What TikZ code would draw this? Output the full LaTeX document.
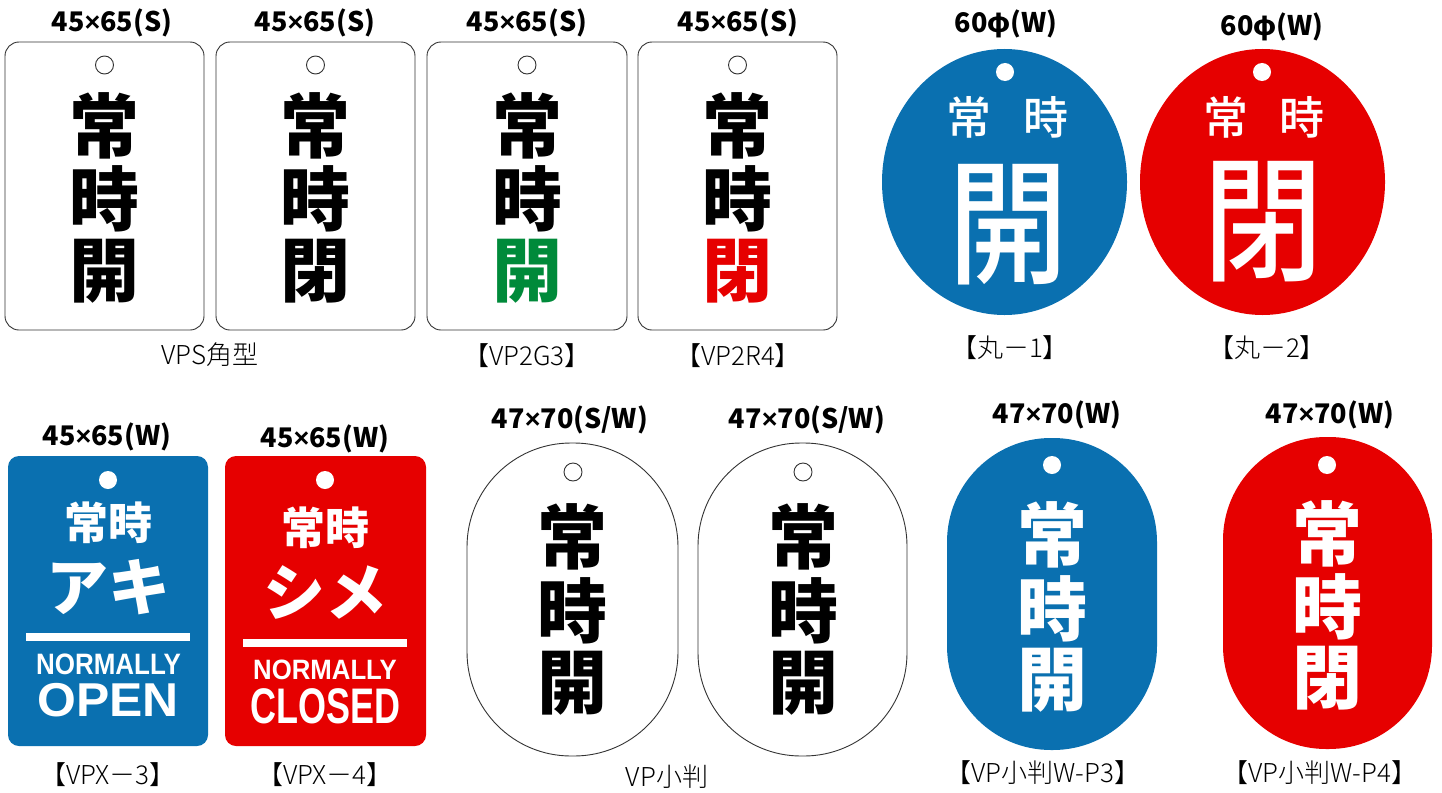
\documentclass[tikz,border=0pt]{standalone}
\usepackage{fontspec}
\newfontfamily\jp{Noto Sans CJK JP}
\newfontfamily\jpblack{Noto Sans CJK JP Black}
\newfontfamily\jpmed{Noto Sans CJK JP Medium}
\newfontfamily\jplight{Noto Sans CJK JP Light}
\newfontfamily\lsans{Liberation Sans}
\newcommand{\tms}{{\lsans\bfseries ×}}
\definecolor{tagblue}{RGB}{10,112,176}
\definecolor{tagred}{RGB}{230,0,0}
\definecolor{taggreen}{RGB}{0,138,58}
\tikzset{
  wtag/.style={draw=black!80,line width=0.9pt,fill=white},
  btag/.style={fill=tagblue},
  rtag/.style={fill=tagred},
  ohole/.style={draw=black!80,line width=0.9pt,fill=white},
  whole/.style={fill=white},
  sizelbl/.style={anchor=base,inner sep=0pt,font=\jp\bfseries\fontsize{27}{27}\selectfont},
  caplbl/.style={inner sep=0pt,font=\jplight\fontsize{26}{26}\selectfont},
  kbig/.style={inner sep=0pt,font=\jpblack\fontsize{70}{70}\selectfont},
  rkan/.style={inner sep=0pt,text=white,font=\jpmed\fontsize{45}{45}\selectfont},
  rbig/.style={inner sep=0pt,text=white,font=\jpmed\fontsize{136}{136}\selectfont},
  engl/.style={anchor=base,inner sep=0pt,text=white,font=\lsans\bfseries},
}
\begin{document}
\begin{tikzpicture}[x=1pt,y=-1pt]
\useasboundingbox (0,0) rectangle (1442,792);
% ---------- top row square tags ----------
\foreach \n/\a/\b in {t1/5/204,t2/216/415,t3/427/627,t4/638/837}{
  \draw[wtag,rounded corners=14pt] (\a,42) rectangle (\b,330);
}
\foreach \n/\cx in {h1/104.5,h2/315.5,h3/527,h4/737.5}{
  \draw[ohole] (\cx,65) circle (9);
}
\node[sizelbl] (s1) at (112,32) {45\tms65(S)};
\node[sizelbl] (s2) at (315,32) {45\tms65(S)};
\node[sizelbl] (s3) at (527,32) {45\tms65(S)};
\node[sizelbl] (s4) at (738,32) {45\tms65(S)};
\node[kbig] (k1a) at (104.5,125.5) {常};
\node[kbig] (k1b) at (104.5,199) {時};
\node[kbig] (k1c) at (104.5,271) {開};
\node[kbig] (k2a) at (315.5,125.5) {常};
\node[kbig] (k2b) at (315.5,199) {時};
\node[kbig] (k2c) at (315.5,271) {閉};
\node[kbig] (k3a) at (527,125.5) {常};
\node[kbig] (k3b) at (527,199) {時};
\node[kbig,text=taggreen] (k3c) at (527,271) {開};
\node[kbig] (k4a) at (737.5,125.5) {常};
\node[kbig] (k4b) at (737.5,199) {時};
\node[kbig,text=tagred] (k4c) at (737.5,271) {閉};
\node[caplbl] (c1) at (210,355) {VPS角型};
\node[caplbl] (c2) at (527,356) {【VP2G3】};
\node[caplbl] (c3) at (738,356) {【VP2R4】};
% ---------- round tags ----------
\fill[btag] (1004.5,182) ellipse [x radius=122.5, y radius=133];
\fill[rtag] (1262.5,182) ellipse [x radius=122.5, y radius=133];
\fill[whole] (1005,72) circle (9);
\fill[whole] (1262,72) circle (9);
\node[sizelbl] (s5) at (1006,33) {60φ(W)};
\node[sizelbl] (s6) at (1272,36) {60φ(W)};
\node[rkan] (r1a) at (969,117.5) {常};
\node[rkan] (r1b) at (1046,117.5) {時};
\node[rkan] (r2a) at (1226,117.5) {常};
\node[rkan] (r2b) at (1302,117.5) {時};
\node[rbig] (r1c) at (1008,224.5) {\scalebox{0.88}[1]{開}};
\node[rbig] (r2c) at (1263,221.5) {\scalebox{0.88}[1]{閉}};
\node[caplbl] (c4) at (1010,348) {【丸－1】};
\node[caplbl] (c5) at (1267,348) {【丸－2】};
% ---------- VPX tags ----------
\fill[btag,rounded corners=11pt] (8,456) rectangle (208,746);
\fill[rtag,rounded corners=11pt] (225,456) rectangle (426,746);
\fill[whole] (108,480) circle (9);
\fill[whole] (325,480) circle (9);
\node[sizelbl] (s7) at (107,445) {45\tms65(W)};
\node[sizelbl] (s8) at (325,447) {45\tms65(W)};
\node[inner sep=0pt,text=white,font=\jp\bfseries\fontsize{44}{44}\selectfont] (x1a) at (108,523) {常時};
\node[inner sep=0pt,text=white,font=\jp\bfseries\fontsize{44}{44}\selectfont] (x2a) at (325,528) {常時};
\node[inner sep=0pt,text=white,font=\jp\bfseries\fontsize{62}{62}\selectfont] (x1b) at (108,587) {アキ};
\node[inner sep=0pt,text=white,font=\jp\bfseries\fontsize{62}{62}\selectfont] (x2b) at (325,592) {シメ};
\fill[white] (26,633) rectangle (190,641);
\fill[white] (243,639) rectangle (407,647);
\node[engl,font=\lsans\bfseries\fontsize{29.5}{29.5}\selectfont] (x1c) at (108.5,674) {\scalebox{0.88}[1]{NORMALLY}};
\node[engl,font=\lsans\bfseries\fontsize{47.5}{47.5}\selectfont] (x1d) at (108,716) {\scalebox{1.05}[1]{OPEN}};
\node[engl,font=\lsans\bfseries\fontsize{28}{28}\selectfont] (x2c) at (325,679) {\scalebox{0.92}[1]{NORMALLY}};
\node[engl,font=\lsans\bfseries\fontsize{50}{50}\selectfont] (x2d) at (325.5,723) {\scalebox{0.72}[1]{CLOSED}};
\node[caplbl] (c6) at (108,775) {【VPX－3】};
\node[caplbl] (c7) at (325,775) {【VPX－4】};
% ---------- oval white tags ----------
\draw[wtag,rounded corners=104pt] (467,443) rectangle (678,756);
\draw[wtag,rounded corners=103pt] (698,443) rectangle (907,756);
\draw[ohole] (573,472) circle (9);
\draw[ohole] (803,472) circle (9);
\node[sizelbl] (s9) at (570,428) {47\tms70(S/W)};
\node[sizelbl] (s10) at (807,428) {47\tms70(S/W)};
\node[kbig] (o1a) at (572.5,536.5) {常};
\node[kbig] (o1b) at (572.5,611) {時};
\node[kbig] (o1c) at (572.5,683.5) {開};
\node[kbig] (o2a) at (803,536.5) {常};
\node[kbig] (o2b) at (803,611) {時};
\node[kbig] (o2c) at (803,683.5) {開};
\node[caplbl] (c8) at (667,777) {VP小判};
% ---------- oval colour tags ----------
\fill[btag,rounded corners=104pt] (947,438) rectangle (1157,750);
\fill[rtag,rounded corners=103pt] (1223,437) rectangle (1432,749);
\fill[whole] (1052,465) circle (9);
\fill[whole] (1327,465) circle (9);
\node[sizelbl] (s11) at (1057,423) {47\tms70(W)};
\node[sizelbl] (s12) at (1330,423) {47\tms70(W)};
\node[kbig,text=white] (p1a) at (1052,534.5) {常};
\node[kbig,text=white] (p1b) at (1052,608.5) {時};
\node[kbig,text=white] (p1c) at (1052,680) {開};
\node[kbig,text=white] (p2a) at (1327,533.5) {常};
\node[kbig,text=white] (p2b) at (1327,606.5) {時};
\node[kbig,text=white] (p2c) at (1327,678.5) {閉};
\node[caplbl] (c9) at (1043,773) {【VP小判W-P3】};
\node[caplbl] (c10) at (1320,773) {【VP小判W-P4】};
\end{tikzpicture}
\end{document}
